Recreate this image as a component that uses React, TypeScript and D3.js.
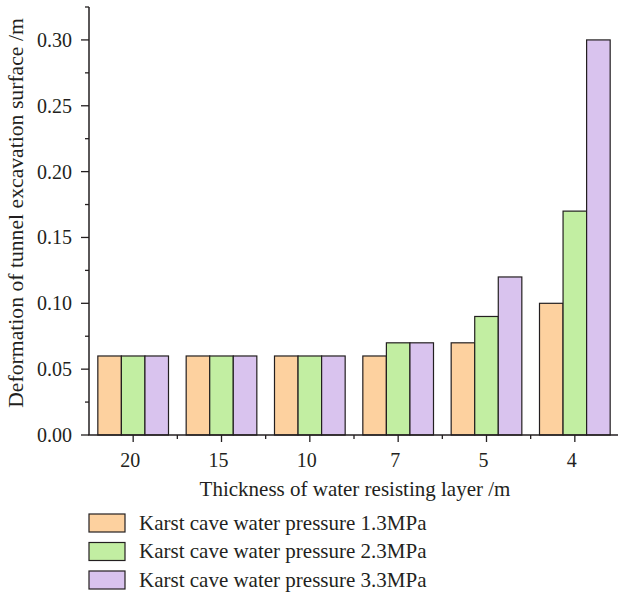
import React from "react";
import * as d3 from "d3";

const categories = ["20", "15", "10", "7", "5", "4"];
const seriesNames = [
  "Karst cave water pressure 1.3MPa",
  "Karst cave water pressure 2.3MPa",
  "Karst cave water pressure 3.3MPa",
];
const series13 = [0.06, 0.06, 0.06, 0.06, 0.07, 0.1];
const series23 = [0.06, 0.06, 0.06, 0.07, 0.09, 0.17];
const series33 = [0.06, 0.06, 0.06, 0.07, 0.12, 0.3];
const seriesColors = ["#FDD19F", "#C2EEA2", "#D9C3EE"];
const yTicks = [0, 0.05, 0.1, 0.15, 0.2, 0.25, 0.3];
const yMinorTicks = [0.025, 0.075, 0.125, 0.175, 0.225, 0.275, 0.325];

const W = 618;
const H = 597;
const FONT = "'Liberation Serif', 'DejaVu Serif', serif";
const INK = "#231f20";

export default function App() {
  const allSeries = [series13, series23, series33];
  const x = d3
    .scaleBand<string>()
    .domain(categories)
    .range([89, 619])
    .paddingInner(0.2)
    .paddingOuter(0.1);
  const xi = d3
    .scaleBand<number>()
    .domain([0, 1, 2])
    .range([0, x.bandwidth()]);
  const y = d3.scaleLinear().domain([0, 0.325]).range([435, 7]);
  const step = x.step();
  const x0 = 89;
  const boundaries = d3.range(1, categories.length).map((i) => x0 + i * step);

  return (
    <svg
      width={W}
      height={H}
      style={{ position: "absolute", left: 0, top: 0, background: "#fff" }}
      fontFamily={FONT}
    >
      {/* bars */}
      {categories.map((c, ci) => (
        <g key={c} transform={`translate(${x(c)},0)`}>
          {allSeries.map((s, si) => (
            <rect
              key={si}
              x={xi(si)}
              y={y(s[ci])}
              width={xi.bandwidth()}
              height={y(0) - y(s[ci])}
              fill={seriesColors[si]}
              stroke={INK}
              strokeWidth={1.2}
            />
          ))}
        </g>
      ))}

      {/* y axis */}
      <line x1={89} x2={89} y1={y(0.325)} y2={y(0)} stroke={INK} strokeWidth={1.5} />
      {yTicks.map((t) => (
        <g key={t}>
          <line x1={81} x2={89} y1={y(t)} y2={y(t)} stroke={INK} strokeWidth={1.3} />
          <text
            x={72}
            y={y(t)}
            textAnchor="end"
            dominantBaseline="central"
            fontSize={20}
            fill={INK}
          >
            {d3.format(".2f")(t)}
          </text>
        </g>
      ))}
      {yMinorTicks.map((t) => (
        <line key={t} x1={85} x2={89} y1={y(t)} y2={y(t)} stroke={INK} strokeWidth={1.3} />
      ))}

      {/* x axis */}
      <line x1={88.3} x2={619} y1={435} y2={435} stroke={INK} strokeWidth={1.5} />
      {categories.map((c) => {
        const cx = (x(c) as number) + x.bandwidth() / 2;
        return (
          <g key={c}>
            <line x1={cx} x2={cx} y1={435} y2={442} stroke={INK} strokeWidth={1.3} />
            <text x={cx - 3} y={467} textAnchor="middle" fontSize={20} fill={INK}>
              {c}
            </text>
          </g>
        );
      })}
      {boundaries.map((b, i) => (
        <line key={i} x1={b} x2={b} y1={435} y2={439} stroke={INK} strokeWidth={1.3} />
      ))}

      {/* axis titles */}
      <text x={355} y={496} textAnchor="middle" fontSize={21} fill={INK}>
        Thickness of water resisting layer /m
      </text>
      <text
        transform={`translate(23,213) rotate(-90)`}
        textAnchor="middle"
        fontSize={21.7}
        fill={INK}
      >
        Deformation of tunnel excavation surface /m
      </text>

      {/* legend */}
      {seriesNames.map((n, i) => (
        <g key={n} transform={`translate(89,${514 + i * 28.5})`}>
          <rect width={36} height={18} fill={seriesColors[i]} stroke={INK} strokeWidth={1.2} />
          <text x={50} y={15.5} fontSize={21} fill={INK}>
            {n}
          </text>
        </g>
      ))}
    </svg>
  );
}
